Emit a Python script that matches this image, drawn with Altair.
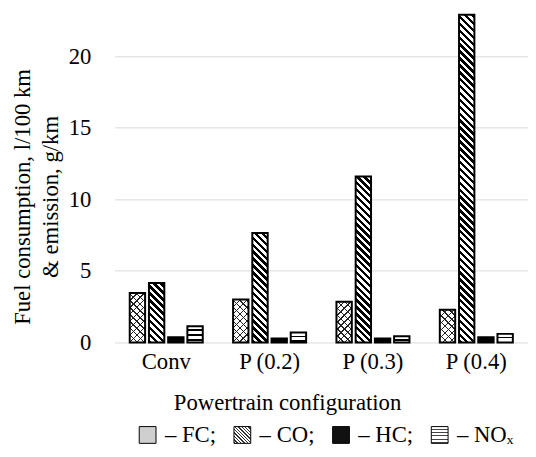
import math
import altair as alt

# ---- data ----
configs = ["Conv", "P (0.2)", "P (0.3)", "P (0.4)"]
series = ["FC", "CO", "HC", "NOx"]
fc_vals = [3.45, 3.0, 2.85, 2.28]
co_vals = [4.15, 7.65, 11.6, 22.9]
hc_vals = [0.37, 0.28, 0.28, 0.37]
nox_vals = [1.13, 0.69, 0.43, 0.60]
y_ticks = [0, 5, 10, 15, 20]

FONT = "Liberation Serif"
FS = 23
W, H = 419, 336
YMAX = 23.17
X_PI, X_PO = 0.286, 0.143
O_PI, O_PO = 0.2, 0.02

step = W / (len(configs) - X_PI + 2 * X_PO)
band = step * (1 - X_PI)
ostep = band / (len(series) - O_PI + 2 * O_PO)
BAR_W = ostep * (1 - O_PI)


def stripe_stops(L, period, frac, on, off, phase=0.0):
    stops = []

    def add(a, b, c):
        a = max(0.0, min(L, a))
        b = max(0.0, min(L, b))
        if b > a:
            stops.append({"offset": round(a / L, 5), "color": c})
            stops.append({"offset": round(b / L, 5), "color": c})

    x = 0.0
    cur = phase - period
    while cur < L:
        s, e = cur, cur + frac * period
        add(x, s, off)
        add(s, e, on)
        x = max(x, e)
        cur += period
    add(x, L, off)
    return stops


def diag_back(w, h, period, frac, on, off):  # "\" lines
    k = (w + h) / (w * w + h * h)
    return {"gradient": "linear", "x1": 0, "y1": 1, "x2": round(k * w, 5),
            "y2": round(1 - k * h, 5), "stops": stripe_stops(w + h, period, frac, on, off)}


def diag_fwd(w, h, period, frac, on, off):  # "/" lines
    k = (w + h) / (w * w + h * h)
    return {"gradient": "linear", "x1": 0, "y1": 0, "x2": round(k * w, 5),
            "y2": round(k * h, 5), "stops": stripe_stops(w + h, period, frac, on, off)}


def horiz(w, h, period, frac, on, off, phase=0.0):
    return {"gradient": "linear", "x1": 0, "y1": 0, "x2": 0, "y2": 1,
            "stops": stripe_stops(h, period, frac, on, off, phase)}


def js(o):
    if isinstance(o, dict):
        return "{" + ",".join(f"{k}:{js(v)}" for k, v in o.items()) + "}"
    if isinstance(o, list):
        return "[" + ",".join(js(v) for v in o) + "]"
    if isinstance(o, str):
        return "'" + o + "'"
    return repr(o)


TRANSP = "rgba(255,255,255,0)"
values_by_series = {"FC": fc_vals, "CO": co_vals, "HC": hc_vals, "NOx": nox_vals}
records = []
for ci, c in enumerate(configs):
    for s in series:
        v = values_by_series[s][ci]
        h = v * H / YMAX
        w = BAR_W
        if s == "FC":
            fa = diag_fwd(w, h, 7.0, 0.2, "#222222", "white")
            fb = diag_back(w, h, 7.0, 0.2, "#222222", TRANSP)
        elif s == "CO":
            fa = diag_back(w, h, 7.0, 0.5, "black", "white")
            fb = "transparent"
        elif s == "HC":
            fa = "black"
            fb = "transparent"
        else:
            fa = horiz(w, h, 5.0, 0.32, "black", "white", 3.0)
            fb = "transparent"
        records.append({"config": c, "series": s, "value": v, "fA": fa, "fB": fb})

# legend swatch fills
leg_co = diag_back(17, 17, 3.4, 0.45, "#333333", "white")
leg_nox = horiz(17, 17, 3.4, 0.35, "#444444", "white", 2.0)
legend_range = ["#cfcfcf", alt.ExprRef(expr=js(leg_co)), "#111111", alt.ExprRef(expr=js(leg_nox))]

data = alt.Data(values=records)

x_enc = alt.X(
    "config:N",
    scale=alt.Scale(domain=configs, paddingInner=X_PI, paddingOuter=X_PO),
    axis=alt.Axis(
        title="Powertrain configuration", labelAngle=0, domain=False, ticks=False,
        labelPadding=8, labelFont=FONT, labelFontSize=FS, labelColor="black",
        titleFont=FONT, titleFontSize=FS, titleFontWeight="normal", titleColor="black",
        titleX=174.8, titleY=68, titleAlign="center", titleBaseline="alphabetic",
        grid=False,
    ),
)
xo_enc = alt.XOffset("series:N", scale=alt.Scale(domain=series, paddingInner=O_PI, paddingOuter=O_PO))
y_enc = alt.Y(
    "value:Q",
    stack=None,
    scale=alt.Scale(domain=[0, YMAX], nice=False, zero=True),
    axis=alt.Axis(
        values=y_ticks, grid=True, gridColor="#d9d9d9", gridWidth=1, domain=False, ticks=False,
        labelPadding=24, labelFont=FONT, labelFontSize=FS, labelColor="black",
        title=["Fuel consumption, l/100 km", "& emission, g/km"],
        titleFont=FONT, titleFontSize=FS, titleFontWeight="normal", titleColor="black",
        titleAngle=270, titleX=-86, titleY=188, titleAlign="center",
        titleBaseline="alphabetic", titleLineHeight=28.5,
    ),
)

base = alt.Chart(data)

legend_layer = base.mark_bar(strokeWidth=0).encode(
    x=x_enc,
    xOffset=xo_enc,
    y=alt.datum(0),
    y2=alt.datum(0),
    color=alt.Color(
        "series:N",
        scale=alt.Scale(domain=series, range=legend_range),
        legend=alt.Legend(
            title=None, orient="none", legendX=22, legendY=418, direction="horizontal",
            symbolType="square", symbolSize=289, symbolStrokeColor="black",
            symbolStrokeWidth=1, symbolOpacity=1,
            labelFont=FONT, labelFontSize=FS, labelColor="black", labelOffset=6,
            columnPadding=15, padding=0, labelLimit=300,
            labelExpr="datum.label == 'NOx' ? '\u2013 NO\u2093' : '\u2013 ' + datum.label + ';'",
        ),
    ),
)

layer_a = base.mark_bar(strokeWidth=0).encode(
    x=x_enc, xOffset=xo_enc, y=y_enc,
    fill=alt.Fill("fA:N", scale=None, legend=None),
)
layer_b = base.mark_bar(stroke="black", strokeWidth=2).encode(
    x=x_enc, xOffset=xo_enc, y=y_enc,
    fill=alt.Fill("fB:N", scale=None, legend=None),
)

chart = alt.layer(legend_layer, layer_a, layer_b).properties(
    width=W, height=H,
    background="white",
    padding={"left": 108, "top": 0, "right": 0, "bottom": 105},
    autosize=alt.AutoSizeParams(type="none"),
).configure_view(stroke=None)

chart.save("out.html", embed_options={"renderer": "svg", "actions": False})
